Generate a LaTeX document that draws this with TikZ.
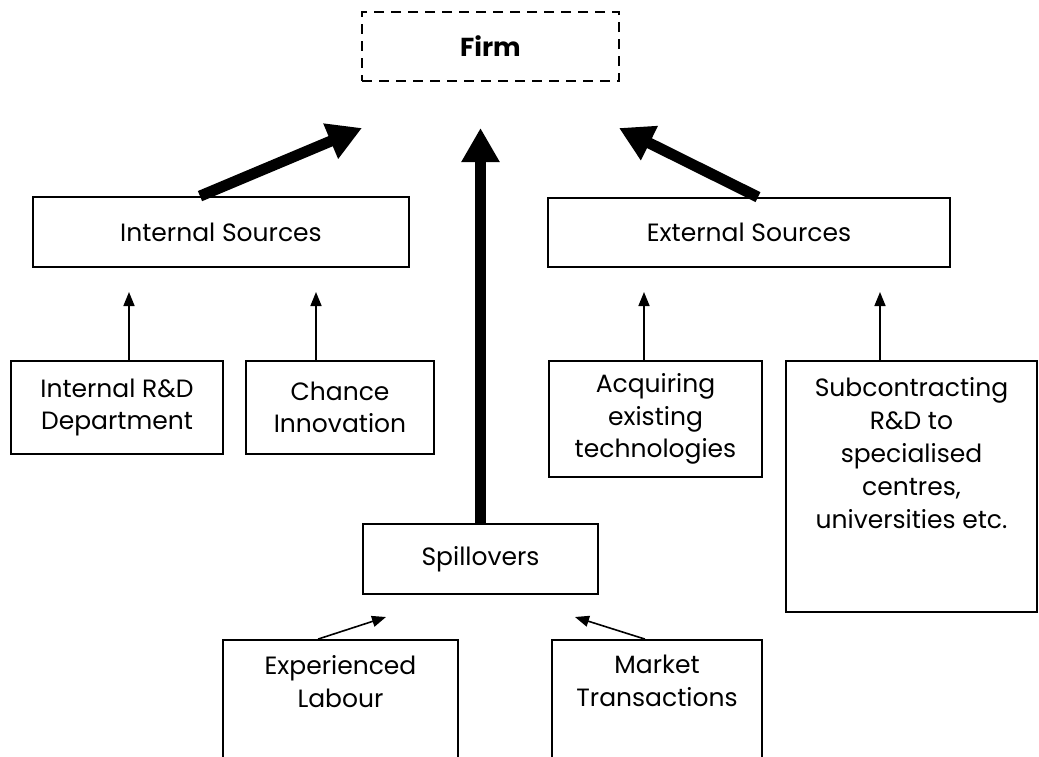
\documentclass[tikz,border=0pt]{standalone}
\usepackage{fontspec}
\setmainfont{Poppins}
\usetikzlibrary{arrows.meta,calc}
\begin{document}
\begin{tikzpicture}[x=1pt,y=-1pt,
  box/.style={draw, line width=1.8pt, rectangle, inner sep=0pt, align=center, font=\fontsize{25}{32.5}\selectfont},
  txt/.style={inner sep=0pt, align=center, anchor=north, font=\fontsize{25}{33}\selectfont},
  firmbox/.style={box, dashed, dash pattern=on 10pt off 7pt, line width=2.4pt, font=\fontsize{26}{32.5}\selectfont\bfseries},
  bigarrow/.style={line width=11pt, -{Triangle[width=36pt,length=34pt]}},
  smallarrow/.style={line width=1.6pt, -{Triangle[width=11pt,length=14pt]}}]
\useasboundingbox (0,0) rectangle (1039,756);
% boxes
\node[firmbox, minimum width=257pt, minimum height=69pt] (firm) at (490.5,46.5) {Firm};
\node[box, minimum width=376pt, minimum height=70pt] (ints) at (221,232) {Internal Sources};
\node[box, minimum width=402pt, minimum height=69pt] (exts) at (749,232.5) {External Sources};
\node[box, minimum width=212pt, minimum height=93pt] (rd) at (117,407.5) {Internal R\&D\\Department};
\node[box, minimum width=188pt, minimum height=93pt] (chance) at (340,407.5) {Chance\\Innovation};
\node[box, minimum width=213pt, minimum height=116pt] (acq) at (655.5,419) {Acquiring\\existing\\technologies};
\node[box, minimum width=251pt, minimum height=251pt] (sub) at (911.5,486.5) {};
\node[txt] (subt) at ($(sub.north)+(0,17)$) {Subcontracting\\R\&D to\\specialised\\centres,\\universities etc.};
\node[box, minimum width=235pt, minimum height=70pt] (spill) at (480.5,559) {Spillovers};
\node[box, minimum width=235pt, minimum height=122pt] (exp) at (340.5,701) {};
\node[txt] (expt) at ($(exp.north)+(0,16)$) {Experienced\\Labour};
\node[box, minimum width=210pt, minimum height=122pt] (mkt) at (657,701) {};
\node[txt] (mktt) at ($(mkt.north)+(0,16)$) {Market\\Transactions};
% free arrow ends
\coordinate (tipL) at (362,128);
\coordinate (tipM) at (480.5,128);
\coordinate (tipR) at (619,128);
\coordinate (tRD) at (129,292);
\coordinate (tCH) at (316,292);
\coordinate (tAC) at (644,292);
\coordinate (tSU) at (880,292);
\coordinate (tEX) at (386,617);
\coordinate (tMK) at (575,617);
% thick arrows
\draw[bigarrow] ($(ints.north)+(-21,0)$) -- (tipL);
\draw[bigarrow] (spill.north) -- (tipM);
\draw[bigarrow] ($(exts.north)+(9,0)$) -- (tipR);
% thin arrows
\draw[smallarrow] ($(rd.north)+(12,0)$) -- (tRD);
\draw[smallarrow] ($(chance.north)+(-24,0)$) -- (tCH);
\draw[smallarrow] ($(acq.north)+(-11.5,0)$) -- (tAC);
\draw[smallarrow] ($(sub.north)+(-31.5,0)$) -- (tSU);
\draw[smallarrow] ($(exp.north)+(-22.5,0)$) -- (tEX);
\draw[smallarrow] ($(mkt.north)+(-12,0)$) -- (tMK);
\end{tikzpicture}
\end{document}
